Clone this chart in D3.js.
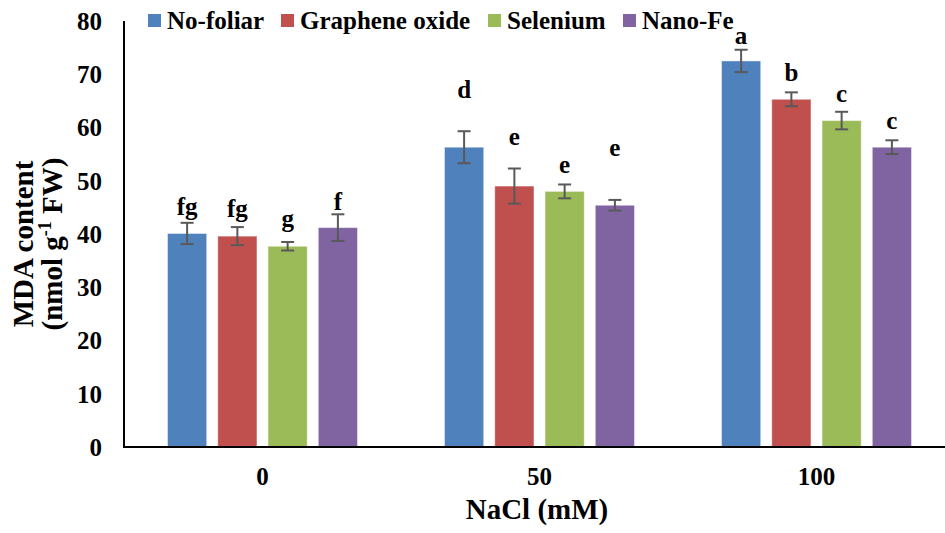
<!DOCTYPE html>
<html>
<head>
<meta charset="utf-8">
<script src="https://cdn.jsdelivr.net/npm/d3@7"></script>
<style>
  body { margin: 0; background: #fff; }
</style>
</head>
<body>
<svg id="chart" width="945" height="533"></svg>
<script>
// NaCl levels and foliar treatments
const groups = ["0", "50", "100"];
const series = ["No-foliar", "Graphene oxide", "Selenium", "Nano-Fe"];
const colors = ["#4F81BD", "#C0504D", "#9BBB59", "#8064A2"];

// MDA content, one array per treatment (order follows groups)
const noFoliar  = [40.1, 56.3, 72.5];
const graphene  = [39.6, 49.0, 65.3];
const selenium  = [37.7, 48.0, 61.3];
const nanoFe    = [41.2, 45.4, 56.3];

// error bar half widths
const errNoFoliar = [2.0, 3.0, 2.1];
const errGraphene = [1.7, 3.3, 1.3];
const errSelenium = [0.8, 1.3, 1.65];
const errNanoFe   = [2.5, 1.0, 1.3];

// significance letters and the value where each letter sits
const letters = [
  ["fg", "d", "a"],
  ["fg", "e", "b"],
  ["g",  "e", "c"],
  ["f",  "e", "c"]
];
const letterAt = [
  [43.6, 65.5, 75.7],
  [43.2, 56.7, 68.7],
  [41.4, 51.4, 64.7],
  [44.6, 54.6, 59.7]
];

const yTicks = [0, 10, 20, 30, 40, 50, 60, 70, 80];

const values = [noFoliar, graphene, selenium, nanoFe];
const errors = [errNoFoliar, errGraphene, errSelenium, errNanoFe];

const FONT = "'Liberation Serif', 'DejaVu Serif', 'Times New Roman', serif";

const svg = d3.select("#chart")
  .attr("font-family", FONT)
  .attr("font-weight", "bold");

const x0 = d3.scaleBand().domain(groups).range([124, 955]).padding(0);
const x1 = d3.scaleBand().domain(d3.range(series.length)).range([-95, 95]).paddingInner(0.22);
const y = d3.scaleLinear().domain([0, 80]).range([447, 21]);

/// Bars
const rows = [];
series.forEach((s, i) => {
  groups.forEach((g, j) => {
    rows.push({ s: i, g: g, v: values[i][j], e: errors[i][j], lab: letters[i][j], la: letterAt[i][j] });
  });
});

const cx = d => x0(d.g) + x0.bandwidth() / 2 + x1(d.s);

svg.append("g").selectAll("rect")
  .data(rows).enter().append("rect")
  .attr("x", cx)
  .attr("y", d => y(d.v))
  .attr("width", x1.bandwidth())
  .attr("height", d => y(0) - y(d.v))
  .attr("fill", d => colors[d.s])
  .attr("stroke", "#ffffff")
  .attr("stroke-opacity", 0.45)
  .attr("stroke-width", 1);

/// Error bars
const eb = svg.append("g").attr("stroke", "#595959").attr("stroke-width", 2);
rows.forEach(d => {
  const mx = cx(d) + x1.bandwidth() / 2;
  eb.append("line").attr("x1", mx).attr("x2", mx).attr("y1", y(d.v + d.e)).attr("y2", y(d.v - d.e));
  eb.append("line").attr("x1", mx - 6.5).attr("x2", mx + 6.5).attr("y1", y(d.v + d.e)).attr("y2", y(d.v + d.e));
  eb.append("line").attr("x1", mx - 6.5).attr("x2", mx + 6.5).attr("y1", y(d.v - d.e)).attr("y2", y(d.v - d.e));
});

/// Letters
svg.append("g").selectAll("text")
  .data(rows).enter().append("text")
  .attr("x", d => cx(d) + x1.bandwidth() / 2)
  .attr("y", d => y(d.la))
  .attr("text-anchor", "middle")
  .attr("font-size", 25)
  .text(d => d.lab);

/// Axes
svg.append("line").attr("x1", 124).attr("x2", 124).attr("y1", y(80)).attr("y2", y(0))
  .attr("stroke", "#000").attr("stroke-width", 2);
svg.append("line").attr("x1", 123).attr("x2", 945).attr("y1", y(0)).attr("y2", y(0))
  .attr("stroke", "#000").attr("stroke-width", 2);

svg.append("g").selectAll("text")
  .data(yTicks).enter().append("text")
  .attr("x", 102)
  .attr("y", d => y(d))
  .attr("dy", "0.35em")
  .attr("text-anchor", "end")
  .attr("font-size", 25)
  .text(d => d);

svg.append("g").selectAll("text")
  .data(groups).enter().append("text")
  .attr("x", d => x0(d) + x0.bandwidth() / 2)
  .attr("y", 485)
  .attr("text-anchor", "middle")
  .attr("font-size", 25)
  .text(d => d);

svg.append("text")
  .attr("x", 537).attr("y", 519)
  .attr("text-anchor", "middle")
  .attr("font-size", 29)
  .text("NaCl (mM)");

const yt = svg.append("text")
  .attr("transform", "translate(33,244) rotate(-90)")
  .attr("text-anchor", "middle")
  .attr("font-size", 29);
yt.append("tspan").attr("x", 0).attr("y", 0).text("MDA content");
const l2 = yt.append("tspan").attr("x", 0).attr("y", 29);
l2.append("tspan").text("(nmol g");
l2.append("tspan").attr("dy", -11).attr("font-size", 18).text("-1");
l2.append("tspan").attr("dy", 11).text(" FW)");

/// Legend
const legX = [148, 281, 488, 623];
const leg = svg.append("g");
series.forEach((s, i) => {
  leg.append("rect").attr("x", legX[i]).attr("y", 14).attr("width", 13).attr("height", 13).attr("fill", colors[i]);
  leg.append("text").attr("x", legX[i] + 19).attr("y", 29).attr("font-size", 25).text(s);
});
</script>
</body>
</html>
